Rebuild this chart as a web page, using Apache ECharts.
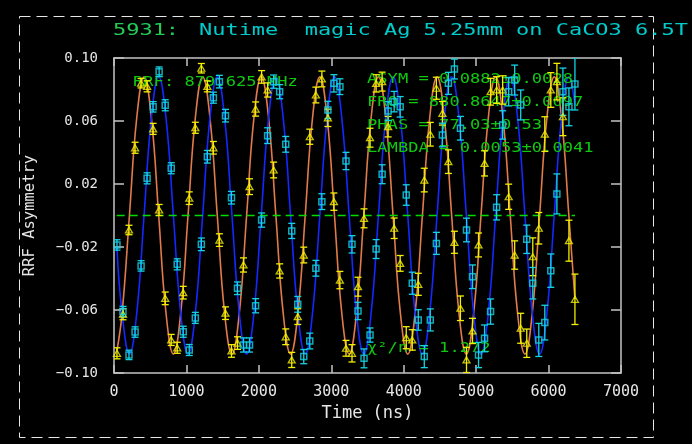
<!DOCTYPE html>
<html>
<head>
<meta charset="utf-8">
<script src="https://cdn.jsdelivr.net/npm/echarts@6.0.0/dist/echarts.min.js"></script>
<style>
html,body{margin:0;padding:0;background:#000;}
#chart{width:692px;height:444px;}
</style>
</head>
<body>
<div id="chart"></div>
<script>
// Time bins (ns)
const times = [41, 124, 207, 291, 374, 457, 540, 623, 707, 790,
  873, 956, 1039, 1123, 1206, 1289, 1372, 1455, 1539, 1622,
  1705, 1788, 1871, 1955, 2038, 2121, 2204, 2287, 2371, 2454,
  2537, 2620, 2703, 2787, 2870, 2953, 3036, 3119, 3203, 3286,
  3369, 3452, 3535, 3619, 3702, 3785, 3868, 3951, 4035, 4118,
  4201, 4284, 4367, 4451, 4534, 4617, 4700, 4783, 4867, 4950,
  5033, 5116, 5199, 5283, 5366, 5449, 5532, 5615, 5699, 5782,
  5865, 5948, 6031, 6115, 6198, 6281, 6364];

// Yellow (real) component
const yellowAsym = [-0.0875, -0.0627, -0.0092, 0.043, 0.084, 0.082, 0.055, 0.0035, -0.0526, -0.079,
  -0.084, -0.049, 0.011, 0.0557, 0.0935, 0.082, 0.043, -0.0156, -0.062, -0.086,
  -0.081, -0.0314, 0.0183, 0.0676, 0.088, 0.0797, 0.0289, -0.0352, -0.077, -0.0917,
  -0.0642, -0.0251, 0.050, 0.0765, 0.0867, 0.062, 0.0088, -0.041, -0.0843, -0.0875,
  -0.0452, -0.0018, 0.0494, 0.0839, 0.085, 0.0564, -0.0081, -0.0304, -0.0776, -0.079,
  -0.0437, 0.0225, 0.0516, 0.0808, 0.0649, 0.0342, -0.017, -0.0589, -0.0917, -0.0733,
  -0.0187, 0.0331, 0.0786, 0.0797, 0.0797, 0.0119, -0.0251, -0.0716, -0.0811, -0.0262,
  -0.0081, 0.0517, 0.0797, 0.085, 0.0627, -0.016, -0.0532];
const yellowErr = [0.0035, 0.0035, 0.003, 0.0035, 0.003, 0.0035, 0.0035, 0.0035, 0.004, 0.0035,
  0.0035, 0.004, 0.004, 0.0035, 0.003, 0.0035, 0.004, 0.004, 0.004, 0.004,
  0.004, 0.0045, 0.005, 0.0045, 0.004, 0.0045, 0.005, 0.0045, 0.005, 0.0048,
  0.005, 0.005, 0.0048, 0.005, 0.005, 0.0055, 0.0055, 0.0055, 0.005, 0.0055,
  0.006, 0.006, 0.006, 0.0055, 0.006, 0.0065, 0.0065, 0.005, 0.007, 0.0065,
  0.007, 0.0075, 0.0075, 0.007, 0.0075, 0.0075, 0.007, 0.0078, 0.008, 0.008,
  0.0076, 0.008, 0.0085, 0.0085, 0.009, 0.008, 0.009, 0.0095, 0.009, 0.012,
  0.010, 0.011, 0.011, 0.0116, 0.012, 0.013, 0.016];

// Cyan (imaginary) component
const cyanAsym = [-0.0187, -0.061, -0.0885, -0.074, -0.032, 0.0236, 0.069, 0.0913, 0.070, 0.030,
  -0.031, -0.0738, -0.0854, -0.065, -0.0183, 0.0373, 0.0748, 0.085, 0.0634, 0.0113,
  -0.0462, -0.0822, -0.0822, -0.0573, -0.0029, 0.0507, 0.085, 0.0786, 0.0452, -0.0098,
  -0.0564, -0.0896, -0.0797, -0.0335, 0.0088, 0.067, 0.0839, 0.0818, 0.0346, -0.0183,
  -0.0606, -0.0907, -0.0759, -0.0213, 0.0262, 0.0663, 0.0723, 0.069, 0.013, -0.043,
  -0.0663, -0.0896, -0.0663, -0.0177, 0.0511, 0.0839, 0.093, 0.0554, -0.0092, -0.0389,
  -0.0886, -0.078, -0.061, 0.0052, 0.0575, 0.0786, 0.086, 0.0702, -0.0151, -0.043,
  -0.079, -0.068, -0.035, 0.0137, 0.0786, 0.069, 0.0835];
const cyanErr = [0.0033, 0.0033, 0.003, 0.0033, 0.0033, 0.0035, 0.0033, 0.003, 0.0035, 0.0035,
  0.0035, 0.0035, 0.0035, 0.0035, 0.004, 0.004, 0.0035, 0.004, 0.004, 0.004,
  0.004, 0.0045, 0.0045, 0.0045, 0.0045, 0.005, 0.0042, 0.0045, 0.005, 0.0048,
  0.005, 0.0045, 0.005, 0.005, 0.005, 0.0055, 0.0055, 0.005, 0.0055, 0.0055,
  0.0055, 0.006, 0.0045, 0.006, 0.006, 0.006, 0.0065, 0.0065, 0.0065, 0.007,
  0.0065, 0.007, 0.007, 0.007, 0.0075, 0.007, 0.0063, 0.0075, 0.0075, 0.0075,
  0.008, 0.0085, 0.008, 0.008, 0.009, 0.009, 0.0095, 0.0095, 0.009, 0.01,
  0.0105, 0.011, 0.0106, 0.0127, 0.015, 0.012, 0.0165];

// Fit curves (extrema, zero crossings and midpoints)
const fitTimes = [40,
  112, 213, 314, 415, 516, 617, 718, 820,
  921, 1022, 1123, 1224, 1325, 1426, 1527, 1629,
  1730, 1831, 1932, 2033, 2134, 2235, 2336, 2438,
  2539, 2640, 2741, 2842, 2943, 3044, 3145, 3247,
  3348, 3449, 3550, 3651, 3752, 3853, 3954, 4056,
  4157, 4258, 4359, 4460, 4561, 4662, 4763, 4865,
  4966, 5067, 5168, 5269, 5370, 5471, 5572, 5674,
  5775, 5876, 5977, 6078, 6179, 6280,
  6364];
const fitOrange = [-0.086,
  -0.062, 0, 0.062, 0.088, 0.062, 0, -0.062, -0.088,
  -0.062, 0, 0.062, 0.088, 0.062, 0, -0.062, -0.088,
  -0.062, 0, 0.062, 0.088, 0.062, 0, -0.062, -0.088,
  -0.062, 0, 0.062, 0.088, 0.062, 0, -0.062, -0.088,
  -0.062, 0, 0.062, 0.088, 0.062, 0, -0.062, -0.088,
  -0.062, 0, 0.062, 0.088, 0.062, 0, -0.062, -0.088,
  -0.062, 0, 0.062, 0.088, 0.062, 0, -0.062, -0.088,
  -0.062, 0, 0.062, 0.088, 0.062, 0,
  -0.053];
const fitBlue = [-0.020,
  -0.062, -0.088, -0.062, 0, 0.062, 0.088, 0.062, 0,
  -0.062, -0.088, -0.062, 0, 0.062, 0.088, 0.062, 0,
  -0.062, -0.088, -0.062, 0, 0.062, 0.088, 0.062, 0,
  -0.062, -0.088, -0.062, 0, 0.062, 0.088, 0.062, 0,
  -0.062, -0.088, -0.062, 0, 0.062, 0.088, 0.062, 0,
  -0.062, -0.088, -0.062, 0, 0.062, 0.088, 0.062, 0,
  -0.062, -0.088, -0.062, 0, 0.062, 0.088, 0.062, 0,
  -0.062, -0.088, -0.062, 0, 0.062, 0.088,
  0.070];

const zeroLineTimes = [37, 6365];
const yTicks = [-0.10, -0.06, -0.02, 0.02, 0.06, 0.10];

const titleRun = '5931:';
const titleText = 'Nutime  magic Ag 5.25mm on CaCO3 6.5T';
const rrfText = 'RRF: 879.625 MHz';
const statLines = ['ASYM = 0.0882\u00b10.0028', 'FRQ = 880.8647\u00b10.0097', 'PHAS = 77.03\u00b10.53', 'LAMBDA = 0.0053\u00b10.0041'];
const chiText = '\u03c7\u00b2/n = 1.272';

const MONO = '"DejaVu Sans Mono", monospace';
const AX = '#c4c4c4';
const YEL = '#f2f000';
const CYA = '#14d4e4';
const GRN = '#00dd00';

function errBars(color) {
  return function (params, api) {
    const t = api.value(0), v = api.value(1), e = api.value(2);
    const a = api.coord([t, v + e]);
    const b = api.coord([t, v - e]);
    const hw = 3.5;
    const st = { stroke: color, lineWidth: 1.3 };
    return {
      type: 'group',
      children: [
        { type: 'line', shape: { x1: a[0], y1: a[1], x2: b[0], y2: b[1] }, style: st },
        { type: 'line', shape: { x1: a[0] - hw, y1: a[1], x2: a[0] + hw, y2: a[1] }, style: st },
        { type: 'line', shape: { x1: b[0] - hw, y1: b[1], x2: b[0] + hw, y2: b[1] }, style: st }
      ]
    };
  };
}

const chart = echarts.init(document.getElementById('chart'), null, { renderer: 'canvas' });

const statFont = '14.5px ' + MONO;
const graphic = [
  { type: 'rect', silent: true, z: 1, shape: { x: 19.5, y: 16.5, width: 634, height: 421 },
    style: { fill: 'none', stroke: '#e6e6e6', lineWidth: 1, lineDash: [11, 6] } },
  { type: 'text', x: 113, y: 31, scaleX: 1.33, z: 10,
    style: { text: titleRun, fill: '#22cc55', font: '16.5px ' + MONO, verticalAlign: 'middle', align: 'left' } },
  { type: 'text', x: 199, y: 31, scaleX: 1.33, z: 10,
    style: { text: titleText, fill: '#00cccc', font: '16.5px ' + MONO, verticalAlign: 'middle', align: 'left' } },
  { type: 'text', x: 133, y: 82, scaleX: 1.18, z: 3,
    style: { text: rrfText, fill: '#10c810', font: statFont, verticalAlign: 'middle', align: 'left' } },
  { type: 'text', x: 367, y: 348, scaleX: 1.18, z: 3,
    style: { text: chiText, fill: '#10c810', font: statFont, verticalAlign: 'middle', align: 'left' } }
];
const statY = [79, 102, 125.5, 148.5];
statLines.forEach(function (s, i) {
  graphic.push({ type: 'text', x: 367, y: statY[i], scaleX: 1.18, z: 3,
    style: { text: s, fill: '#10c810', font: statFont, verticalAlign: 'middle', align: 'left' } });
});

function yFmt(v) {
  return (v < -1e-9 ? '\u2212' : '') + Math.abs(v).toFixed(2);
}
function xFmt(v) {
  return String(Math.round(v));
}

const axisLineStyle = { color: AX, width: 1.5 };

const option = {
  backgroundColor: '#000000',
  animation: false,
  grid: { left: 114, right: 71, top: 58, bottom: 71 },
  xAxis: [
    { type: 'value', position: 'bottom', min: 0, max: 7000, interval: 1000,
      axisLine: { show: true, onZero: false, lineStyle: axisLineStyle },
      axisTick: { show: true, inside: true, length: 8, lineStyle: axisLineStyle },
      axisLabel: { color: '#e6e6e6', fontFamily: MONO, fontSize: 15, margin: 12, formatter: xFmt },
      splitLine: { show: false },
      name: 'Time (ns)', nameLocation: 'middle', nameGap: 27,
      nameTextStyle: { color: '#e6e6e6', fontFamily: MONO, fontSize: 17 } },
    { type: 'value', position: 'top', min: 0, max: 7000, interval: 1000,
      axisLine: { show: true, onZero: false, lineStyle: axisLineStyle },
      axisTick: { show: true, inside: true, length: 8, lineStyle: axisLineStyle },
      axisLabel: { show: false }, splitLine: { show: false } }
  ],
  yAxis: [
    { type: 'value', position: 'left', min: -0.1, max: 0.1, interval: 0.04,
      axisLine: { show: true, onZero: false, lineStyle: axisLineStyle },
      axisTick: { show: true, inside: true, length: 10, lineStyle: axisLineStyle, customValues: yTicks },
      axisLabel: { color: '#e6e6e6', fontFamily: MONO, fontSize: 14, margin: 16, formatter: yFmt, customValues: yTicks },
      splitLine: { show: false },
      name: 'RRF Asymmetry', nameLocation: 'middle', nameGap: 76,
      nameTextStyle: { color: '#e6e6e6', fontFamily: MONO, fontSize: 15.5 } },
    { type: 'value', position: 'right', min: -0.1, max: 0.1, interval: 0.04,
      axisLine: { show: true, onZero: false, lineStyle: axisLineStyle },
      axisTick: { show: true, inside: true, length: 10, lineStyle: axisLineStyle, customValues: yTicks },
      axisLabel: { show: false, customValues: yTicks }, splitLine: { show: false } }
  ],
  graphic: graphic,
  series: [
    { type: 'line', name: 'fitReal', xAxisIndex: 0, yAxisIndex: 0, z: 2,
      data: fitTimes.map(function (t, i) { return [t, fitOrange[i]]; }),
      smooth: 0.45, symbol: 'none', lineStyle: { color: '#e27a4a', width: 1.6 } },
    { type: 'line', name: 'fitImag', xAxisIndex: 0, yAxisIndex: 0, z: 2,
      data: fitTimes.map(function (t, i) { return [t, fitBlue[i]]; }),
      smooth: 0.45, symbol: 'none', lineStyle: { color: '#1428ff', width: 1.6 } },
    { type: 'line', name: 'zero', xAxisIndex: 0, yAxisIndex: 0, z: 3, color: GRN,
      data: zeroLineTimes.map(function (t) { return [t, 0]; }),
      symbol: 'none', itemStyle: { color: GRN },
      lineStyle: { color: GRN, width: 1.6, type: [8, 5], opacity: 1 } },
    { type: 'custom', name: 'yErr', xAxisIndex: 0, yAxisIndex: 0, z: 4, clip: true,
      renderItem: errBars(YEL),
      data: times.map(function (t, i) { return [t, yellowAsym[i], yellowErr[i]]; }) },
    { type: 'scatter', name: 'yellow', xAxisIndex: 0, yAxisIndex: 0, z: 5,
      symbol: 'triangle', symbolSize: [7, 6],
      itemStyle: { color: 'rgba(0,0,0,0)', borderColor: YEL, borderWidth: 1.3 },
      data: times.map(function (t, i) { return [t, yellowAsym[i]]; }) },
    { type: 'custom', name: 'cErr', xAxisIndex: 0, yAxisIndex: 0, z: 4, clip: true,
      renderItem: errBars(CYA),
      data: times.map(function (t, i) { return [t, cyanAsym[i], cyanErr[i]]; }) },
    { type: 'scatter', name: 'cyan', xAxisIndex: 0, yAxisIndex: 0, z: 5,
      symbol: 'rect', symbolSize: 6,
      itemStyle: { color: 'rgba(0,0,0,0)', borderColor: CYA, borderWidth: 1.5 },
      data: times.map(function (t, i) { return [t, cyanAsym[i]]; }) }
  ]
};
chart.setOption(option);
</script>
</body>
</html>
